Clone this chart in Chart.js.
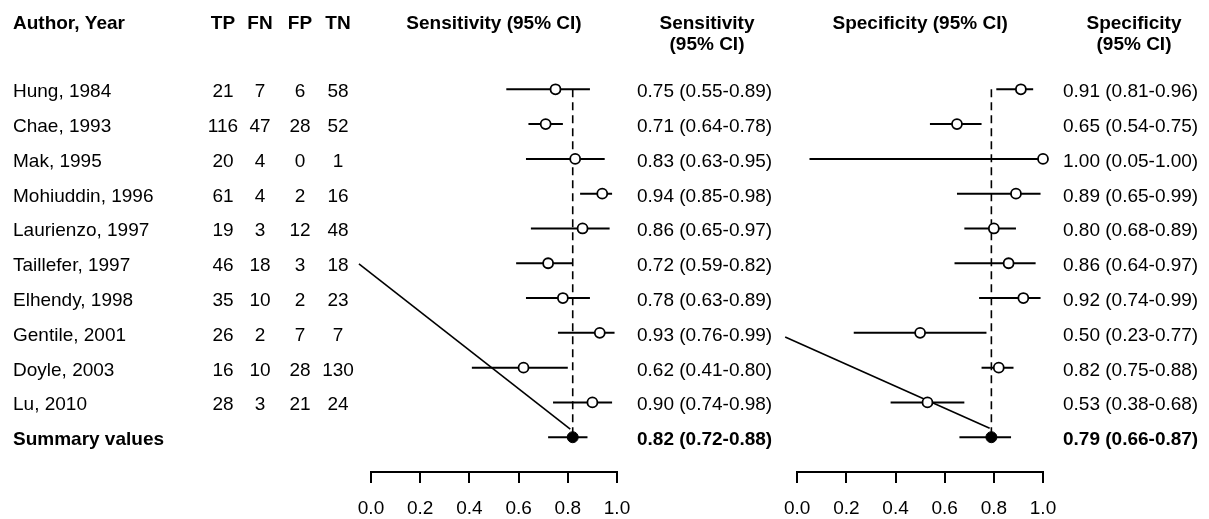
<!DOCTYPE html>
<html>
<head>
<meta charset="utf-8">
<title>Forest plot</title>
<script src="https://cdn.jsdelivr.net/npm/chart.js@4.4.1/dist/chart.umd.min.js"></script>
<style>
  html, body { margin: 0; padding: 0; background: #fff; }
  #wrap { position: relative; width: 1209px; height: 519px; overflow: hidden; }
  #wrap canvas { position: absolute; top: 0; }
  #sens { left: 0; }
  #spec { left: 770px; }
</style>
</head>
<body>
<div id="wrap">
  <canvas id="sens" width="785" height="519"></canvas>
  <canvas id="spec" width="439" height="519"></canvas>
</div>
<script>
// study table
const studies = ['Hung, 1984', 'Chae, 1993', 'Mak, 1995', 'Mohiuddin, 1996', 'Laurienzo, 1997',
  'Taillefer, 1997', 'Elhendy, 1998', 'Gentile, 2001', 'Doyle, 2003', 'Lu, 2010'];
const tp = [21, 116, 20, 61, 19, 46, 35, 26, 16, 28];
const fn = [7, 47, 4, 4, 3, 18, 10, 2, 10, 3];
const fp = [6, 28, 0, 2, 12, 3, 2, 7, 28, 21];
const tn = [58, 52, 1, 16, 48, 18, 23, 7, 130, 24];

// per-study estimates with 95% CI
const sensEst = [0.75, 0.71, 0.83, 0.94, 0.86, 0.72, 0.78, 0.93, 0.62, 0.90];
const sensLo = [0.55, 0.64, 0.63, 0.85, 0.65, 0.59, 0.63, 0.76, 0.41, 0.74];
const sensHi = [0.89, 0.78, 0.95, 0.98, 0.97, 0.82, 0.89, 0.99, 0.80, 0.98];
const specEst = [0.91, 0.65, 1.00, 0.89, 0.80, 0.86, 0.92, 0.50, 0.82, 0.53];
const specLo = [0.81, 0.54, 0.05, 0.65, 0.68, 0.64, 0.74, 0.23, 0.75, 0.38];
const specHi = [0.96, 0.75, 1.00, 0.99, 0.89, 0.97, 0.99, 0.77, 0.88, 0.68];

// pooled values [estimate, lower, upper]
const sensSummary = [0.82, 0.72, 0.88];
const specSummary = [0.79, 0.66, 0.87];

const axisTicks = [0, 0.2, 0.4, 0.6, 0.8, 1.0];

// stray segments that run down to the pooled point, as [value, row]
const sensConnector = [[-0.049, 5.02], [0.81, 9.77]];
const specConnector = [[-0.049, 7.12], [0.783, 9.74]];

const FONT = '"Liberation Sans", Arial, sans-serif';
const SIZE = 19;
const nRows = studies.length;   // summary row sits at index nRows

const fmt = v => v.toFixed(2);
const ciText = (e, lo, hi) => fmt(e) + ' (' + fmt(lo) + '-' + fmt(hi) + ')';

function put(ctx, str, x, y, align, bold) {
  ctx.font = (bold ? 'bold ' : '') + SIZE + 'px ' + FONT;
  ctx.textAlign = align;
  ctx.textBaseline = 'alphabetic';
  ctx.fillText(str, x, y);
}

function buildDatasets(est, lo, hi, summary, connector) {
  const sets = [];
  // study points (drawn on top)
  sets.push({
    data: est.map((v, i) => ({ x: v, y: i })),
    showLine: false,
    pointRadius: 5,
    pointBackgroundColor: '#fff',
    pointBorderColor: '#000',
    pointBorderWidth: 1.8
  });
  sets.push({
    data: [{ x: summary[0], y: nRows }],
    showLine: false,
    pointRadius: 5.5,
    pointBackgroundColor: '#000',
    pointBorderColor: '#000',
    pointBorderWidth: 1
  });
  // confidence intervals
  est.forEach((v, i) => {
    sets.push({
      data: [{ x: lo[i], y: i }, { x: hi[i], y: i }],
      showLine: true, borderColor: '#000', borderWidth: 2, pointRadius: 0
    });
  });
  sets.push({
    data: [{ x: summary[1], y: nRows }, { x: summary[2], y: nRows }],
    showLine: true, borderColor: '#000', borderWidth: 2, pointRadius: 0
  });
  sets.push({
    data: connector.map(p => ({ x: p[0], y: p[1] })),
    showLine: true, borderColor: '#000', borderWidth: 1.6, pointRadius: 0
  });
  // reference line at the pooled value
  sets.push({
    data: [{ x: summary[0], y: 0 }, { x: summary[0], y: nRows }],
    showLine: true, borderColor: '#000', borderWidth: 1.6, borderDash: [8, 5], pointRadius: 0
  });
  sets.forEach(s => { s.clip = false; });
  return sets;
}

function makeChart(canvas, padLeft, padRight, datasets, textPlugin) {
  return new Chart(canvas.getContext('2d'), {
    type: 'scatter',
    data: { datasets },
    options: {
      responsive: false,
      animation: false,
      devicePixelRatio: 1,
      events: [],
      layout: { padding: { left: padLeft, right: padRight, top: 54.5, bottom: 0 } },
      plugins: { legend: { display: false }, tooltip: { enabled: false } },
      scales: {
        x: {
          type: 'linear', min: 0, max: 1,
          afterBuildTicks: s => { s.ticks = axisTicks.map(v => ({ value: v })); },
          afterFit: s => { s.height = 47; },
          grid: { drawOnChartArea: false, drawTicks: true, tickLength: 11, color: '#000', lineWidth: 2 },
          border: { display: true, color: '#000', width: 2 },
          ticks: {
            autoSkip: false, maxRotation: 0, padding: 14, color: '#000',
            font: { family: FONT, size: SIZE },
            callback: v => v.toFixed(1)
          }
        },
        y: { type: 'linear', min: -1, max: nRows + 1, reverse: true, display: false }
      }
    },
    plugins: [textPlugin]
  });
}

const rowBase = (y, i) => y.getPixelForValue(i) + 8;

const sensText = {
  id: 'sensText',
  afterDraw(chart) {
    const ctx = chart.ctx, x = chart.scales.x, y = chart.scales.y;
    const cols = [223, 260, 300, 338];
    const ciLeft = x.right + 20;
    ctx.save();
    ctx.fillStyle = '#000';
    put(ctx, 'Author, Year', 13, 28.5, 'left', true);
    ['TP', 'FN', 'FP', 'TN'].forEach((h, k) => put(ctx, h, cols[k], 28.5, 'center', true));
    put(ctx, 'Sensitivity (95% CI)', (x.left + x.right) / 2, 28.5, 'center', true);
    put(ctx, 'Sensitivity', ciLeft + 70, 28.5, 'center', true);
    put(ctx, '(95% CI)', ciLeft + 70, 50, 'center', true);
    studies.forEach((name, i) => {
      const b = rowBase(y, i);
      put(ctx, name, 13, b, 'left', false);
      [tp[i], fn[i], fp[i], tn[i]].forEach((n, k) => put(ctx, String(n), cols[k], b, 'center', false));
      put(ctx, ciText(sensEst[i], sensLo[i], sensHi[i]), ciLeft, b, 'left', false);
    });
    const bs = rowBase(y, nRows);
    put(ctx, 'Summary values', 13, bs, 'left', true);
    put(ctx, ciText(...sensSummary), ciLeft, bs, 'left', true);
    ctx.restore();
  }
};

const specText = {
  id: 'specText',
  afterDraw(chart) {
    const ctx = chart.ctx, x = chart.scales.x, y = chart.scales.y;
    const ciLeft = x.right + 20;
    ctx.save();
    ctx.fillStyle = '#000';
    put(ctx, 'Specificity (95% CI)', (x.left + x.right) / 2, 28.5, 'center', true);
    put(ctx, 'Specificity', ciLeft + 71, 28.5, 'center', true);
    put(ctx, '(95% CI)', ciLeft + 71, 50, 'center', true);
    studies.forEach((name, i) => {
      put(ctx, ciText(specEst[i], specLo[i], specHi[i]), ciLeft, rowBase(y, i), 'left', false);
    });
    put(ctx, ciText(...specSummary), ciLeft, rowBase(y, nRows), 'left', true);
    ctx.restore();
  }
};

makeChart(document.getElementById('sens'), 371, 785 - 617,
  buildDatasets(sensEst, sensLo, sensHi, sensSummary, sensConnector), sensText);
makeChart(document.getElementById('spec'), 797 - 770, 439 - (1043 - 770),
  buildDatasets(specEst, specLo, specHi, specSummary, specConnector), specText);
</script>
</body>
</html>
